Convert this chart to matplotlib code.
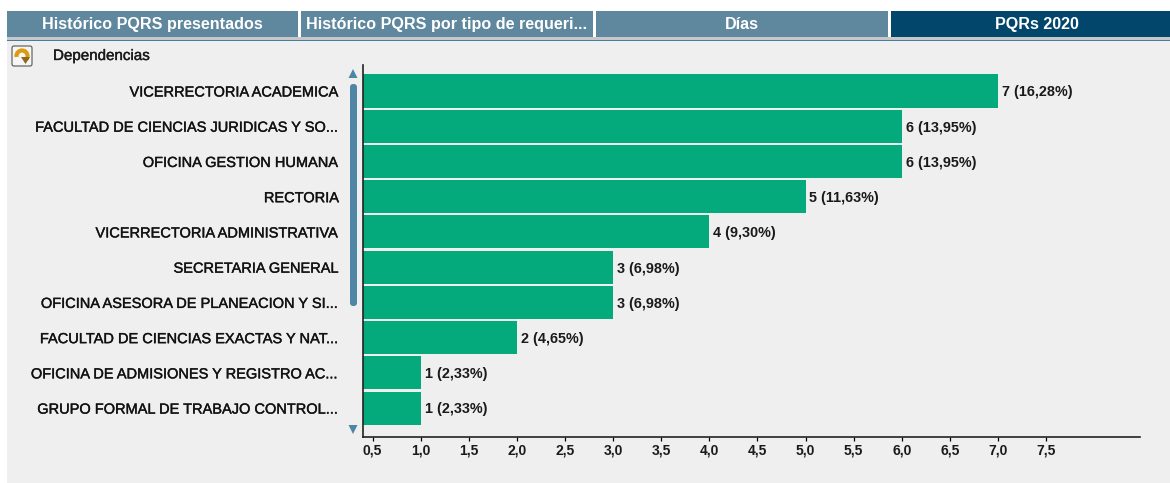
import matplotlib
matplotlib.use("Agg")
import matplotlib.pyplot as plt
import matplotlib.patheffects as pe
from matplotlib.patches import Rectangle, FancyBboxPatch, Polygon, Arc

plt.rcParams["font.family"] = ["Liberation Sans", "DejaVu Sans"]

W, H = 1170, 483

dependencias = [
    "VICERRECTORIA ACADEMICA",
    "FACULTAD DE CIENCIAS JURIDICAS Y SO...",
    "OFICINA GESTION HUMANA",
    "RECTORIA",
    "VICERRECTORIA ADMINISTRATIVA",
    "SECRETARIA GENERAL",
    "OFICINA ASESORA DE PLANEACION Y SI...",
    "FACULTAD DE CIENCIAS EXACTAS Y NAT...",
    "OFICINA DE ADMISIONES Y REGISTRO AC...",
    "GRUPO FORMAL DE TRABAJO CONTROL...",
]
cantidades = [7, 6, 6, 5, 4, 3, 3, 2, 1, 1]
porcentajes = ["16,28", "13,95", "13,95", "11,63", "9,30", "6,98", "6,98", "4,65", "2,33", "2,33"]
ticks_x = [0.5, 1.0, 1.5, 2.0, 2.5, 3.0, 3.5, 4.0, 4.5, 5.0, 5.5, 6.0, 6.5, 7.0, 7.5]
tabs = ["Histórico PQRS presentados", "Histórico PQRS por tipo de requeri...", "Días", "PQRs 2020"]
tab_x = [(7, 298), (301, 593), (596, 888), (891, 1183)]

GREEN = "#04aa7c"
TAB = "#5f879e"
TAB_ON = "#02466c"
PANEL = "#efefef"
ARROW = "#4f86a6"

# trazo fino para imitar el texto semi negrita de la captura
semi = [pe.withStroke(linewidth=0.3, foreground="#222222")]

fig = plt.figure(figsize=(W / 100, H / 100), dpi=100, facecolor="white")

# capa de fondo en pixeles de la imagen
bg = fig.add_axes([0, 0, 1, 1], zorder=0)
bg.set_xlim(0, W)
bg.set_ylim(H, 0)
bg.axis("off")

bg.add_patch(Rectangle((7, 41), W - 7, H - 41, facecolor=PANEL, linewidth=0))
bg.add_patch(Rectangle((7, 37), W - 7, 2.5, facecolor="#c4c8ca", linewidth=0))
bg.add_patch(Rectangle((7, 39.5), W - 7, 1.5, facecolor="#4a7d99", linewidth=0))
for (x0, x1), name in zip(tab_x, tabs):
    activa = name == "PQRs 2020"
    bg.add_patch(Rectangle((x0, 11), x1 - x0, 26, facecolor=TAB_ON if activa else TAB, linewidth=0))
    bg.text((x0 + x1) / 2, 29, name, color="white", fontsize=11.6, fontweight="bold", ha="center", va="baseline")

bg.text(53, 56, "Dependencias", color="#1a1a1a", fontsize=10.9, ha="left", va="center", path_effects=semi)

# boton de recarga
bg.add_patch(FancyBboxPatch((12, 46), 20, 20, boxstyle="round,pad=0,rounding_size=2",
                            facecolor="#f6f6f6", edgecolor="#555555", linewidth=0.8))
bg.add_patch(Arc((22, 56), 11, 11, theta1=170, theta2=40, edgecolor="#dc9c10", linewidth=3))
bg.add_patch(Polygon([(21, 57), (30, 57), (25.5, 64)], facecolor="#8a6a20"))

# barra de scroll
bg.add_patch(FancyBboxPatch((350, 84), 7, 222, boxstyle="round,pad=0,rounding_size=3",
                            facecolor=ARROW, edgecolor="none"))
bg.add_patch(Polygon([(348.5, 78), (357.5, 78), (353, 69)], facecolor=ARROW))
bg.add_patch(Polygon([(348.5, 425), (357.5, 425), (353, 434)], facecolor=ARROW))

# grafico
ax = fig.add_axes([363 / W, 1 - 437 / H, (1140 - 363) / W, (437 - 65) / H], zorder=2)
ax.patch.set_alpha(0)
pos = list(range(len(dependencias)))
ax.barh(pos, cantidades, height=0.94, color=GREEN, edgecolor="none")
for p, c, pct in zip(pos, cantidades, porcentajes):
    ax.annotate(f"{c} ({pct}%)", (c, p), xytext=(2.8, -1), textcoords="offset points", va="center",
                fontsize=10.4, fontweight="bold", color="#1a1a1a")

ax.set_xlim(0.4, 8.477)
ax.set_ylim(9.82, -0.738)
ax.set_xticks(ticks_x)
ax.set_xticklabels([f"{t:.1f}".replace(".", ",") for t in ticks_x], fontsize=10, fontweight="bold", color="#1a1a1a")
ax.set_yticks(pos)
ax.set_yticklabels(dependencias, fontsize=10.5, color="#111111", path_effects=semi)
ax.tick_params(axis="x", length=3, width=0.9, pad=2, direction="out")
ax.tick_params(axis="y", length=0, pad=17)
for s in ["top", "right"]:
    ax.spines[s].set_visible(False)
for s in ["left", "bottom"]:
    ax.spines[s].set_linewidth(1.2)
    ax.spines[s].set_color("#222222")

fig.savefig("out.png", dpi=100, facecolor="white")
